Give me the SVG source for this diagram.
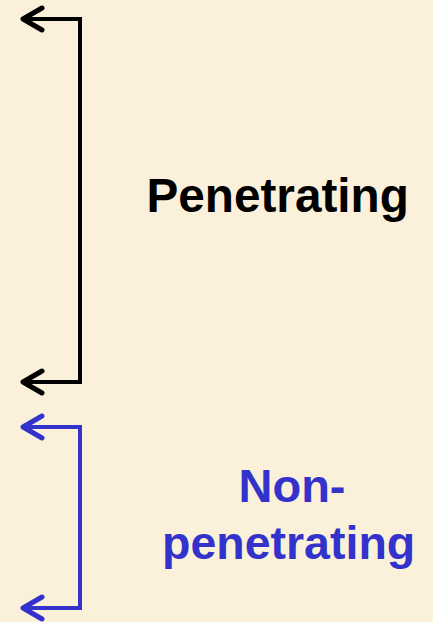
<svg xmlns="http://www.w3.org/2000/svg" width="433" height="622" viewBox="0 0 433 622">
<style>
.lbl{font-family:"Liberation Sans",Arial,sans-serif;font-weight:bold}
.br{fill:none;stroke-width:4;stroke-linejoin:miter}
.hd{fill:none;stroke-width:5;stroke-linecap:round;stroke-linejoin:round}
</style>
<rect width="433" height="622" fill="#FBF1DA"/>
<g id="connectors">
<g id="penetrating-bracket" stroke="#000000">
<path class="br" d="M24 19 H80 V382 H24"/>
<path class="hd" d="M42 8 L23 19 L42 30"/>
<path class="hd" d="M42 371 L23 382 L42 393"/>
</g>
<g id="nonpenetrating-bracket" stroke="#3333CC">
<path class="br" d="M24 427 H80 V608 H24"/>
<path class="hd" d="M42 416 L23 427 L42 438"/>
<path class="hd" d="M42 597 L23 608 L42 619"/>
</g>
</g>
<g id="penetrating">
<text class="lbl" x="146.5" y="212" font-size="47.7" fill="#000000">Penetrating</text>
</g>
<g id="non-penetrating">
<text class="lbl" x="238.5" y="502" font-size="47" fill="#3333CC">Non-</text>
<text class="lbl" x="162" y="559" font-size="46.5" fill="#3333CC">penetrating</text>
</g>
</svg>
